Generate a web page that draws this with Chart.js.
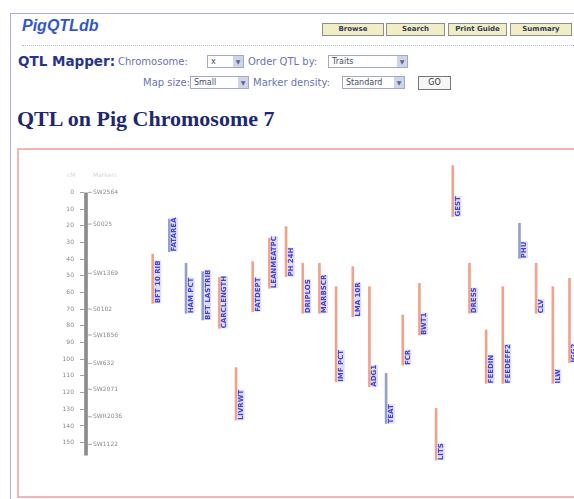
<!DOCTYPE html>
<html>
<head>
<meta charset="utf-8">
<script src="https://cdn.jsdelivr.net/npm/chart.js@4.4.1/dist/chart.umd.min.js"></script>
<style>
body { margin:0; background:#fff; width:574px; height:499px; overflow:hidden; position:relative; font-family:"DejaVu Sans", Verdana, sans-serif; }
.frame { position:absolute; left:10px; top:13px; width:600px; height:520px; border-top:1px solid #aab0cf; border-left:1px solid #aab0cf; }
.logo { position:absolute; left:22px; top:17px; font:italic bold 16px "Liberation Sans", Arial, sans-serif; color:#3356cc; }
.btn { position:absolute; top:23px; height:11px; border:1px solid #8e8e8e; background:#f1edc6; font:bold 7px "DejaVu Sans"; color:#333a55; text-align:center; line-height:11px; white-space:nowrap; }
.dots { position:absolute; left:22px; top:45px; width:560px; border-top:1px dotted #b9bdd9; }
.mapper { position:absolute; left:18px; top:53px; font:bold 13.5px "DejaVu Sans"; color:#27348b; white-space:nowrap; }
.lbl { position:absolute; font:10px "DejaVu Sans"; color:#6a74b0; white-space:nowrap; line-height:13px; }
.sel { position:absolute; height:12px; border:1px solid #a4a9c0; background:#fff; font:8px "DejaVu Sans"; color:#444c66; line-height:12px; padding-left:3px; box-sizing:border-box; height:13px; white-space:nowrap; }
.sel i { position:absolute; right:0; top:0; width:10px; height:11px; background:#cdd5ea; font-style:normal; font-size:6px; text-align:center; line-height:11px; color:#5a6690; }
.go { position:absolute; left:418px; top:76px; width:33px; height:14px; box-sizing:border-box; border:1px solid #777; background:#f6f6f6; font:8px "DejaVu Sans"; color:#333; text-align:center; line-height:12px; }
.title { position:absolute; left:17px; top:108px; font:bold 22px "Liberation Serif", "Times New Roman", serif; color:#1d2870; line-height:22px; white-space:nowrap; }
.box { position:absolute; left:17px; top:148px; width:600px; height:346px; border:2px solid #f1b7b7; }
#chart { position:absolute; left:20px; top:159px; }
</style>
</head>
<body>
<div class="frame"></div>
<div class="logo">PigQTLdb</div>
<div class="btn" style="left:322px;width:60px">Browse</div>
<div class="btn" style="left:386px;width:57px">Search</div>
<div class="btn" style="left:448px;width:57px">Print Guide</div>
<div class="btn" style="left:510px;width:60px">Summary</div>
<div class="dots"></div>
<div class="mapper">QTL Mapper:</div>
<div class="lbl" style="left:118px;top:55px">Chromosome:</div>
<div class="sel" style="left:207px;top:55px;width:37px">x<i>&#9660;</i></div>
<div class="lbl" style="left:248px;top:55px">Order QTL by:</div>
<div class="sel" style="left:328px;top:55px;width:80px">Traits<i>&#9660;</i></div>
<div class="lbl" style="left:143px;top:76px">Map size:</div>
<div class="sel" style="left:190px;top:76px;width:59px">Small<i>&#9660;</i></div>
<div class="lbl" style="left:253px;top:76px">Marker density:</div>
<div class="sel" style="left:342px;top:76px;width:63px">Standard<i>&#9660;</i></div>
<div class="go">GO</div>
<div class="title">QTL on Pig Chromosome 7</div>
<div class="box"></div>
<canvas id="chart" width="554" height="317"></canvas>
<script>
// chromosome 7 map (cM)
const chromLength = 157.5;
const tickValues = [0, 10, 20, 30, 40, 50, 60, 70, 80, 90, 100, 110, 120, 130, 140, 150];
const markerNames = ["SW2564", "S0025", "SW1369", "S0102", "SW1856", "SW632", "SW2071", "SWR2036", "SW1122"];
const markerPos = [0, 19, 48.5, 70, 85.5, 102.5, 118, 134.5, 151];

// QTL intervals, one column each
const qtlNames = ["BFT 10 RIB", "FATAREA", "HAM PCT", "BFT LASTRIB", "CARCLENGTH", "LIVRWT", "FATDEPT",
   "LEANMEATPC", "PH 24H", "DRIPLOS", "MARBSCR", "IMF PCT", "LMA 10R", "ADG1", "TEAT", "FCR", "BWT1",
   "LITS", "GEST", "DRESS", "FEEDIN", "FEEDEFF2", "PHU", "CLV", "ILW", "IGG2"];
const qtlStart = [37, 16, 42.5, 47.5, 51, 105, 41.5, 27.5, 20.5, 42.5, 42.5, 56.5, 44.5, 56.5, 108.5,
   73.5, 54.5, 129.5, -16, 42.5, 82.5, 56.5, 18.5, 42.5, 56.5, 51.5];
const qtlEnd = [66.5, 35.5, 72.5, 76.5, 81.5, 136.5, 71.5, 57.5, 50.5, 72.5, 72.5, 113.5, 74.5, 116.5,
   138.5, 103.5, 85.5, 160.5, 14.5, 72.5, 114.5, 114.5, 39.5, 72.5, 114.5, 102];
const qtlKind = ["a", "b", "b", "b", "a", "a", "a", "a", "a", "a", "a", "a", "a", "a", "b", "a", "a",
   "a", "a", "a", "a", "a", "b", "a", "a", "a"];

const chromColumn = -4;
const KIND_COLOUR = { a: "#f0a38c", b: "#95a0c8" };

const mapLabels = {
   id: "mapLabels",
   afterDatasetsDraw(chart) {
      const ctx = chart.ctx;
      const y = chart.scales.y;
      const cx = chart.scales.x.getPixelForValue(chromColumn);

      // markers on the chromosome
      ctx.save();
      ctx.font = '6px "DejaVu Sans"';
      ctx.fillStyle = "#8a8a8a";
      ctx.strokeStyle = "#aaaaaa";
      ctx.lineWidth = 1;
      ctx.textBaseline = "middle";
      markerNames.forEach((name, i) => {
         const py = y.getPixelForValue(markerPos[i]);
         ctx.beginPath();
         ctx.moveTo(cx + 2, py);
         ctx.lineTo(cx + 6, py);
         ctx.stroke();
         ctx.fillText(name, cx + 7, py);
      });
      ctx.fillStyle = "#d4d4d4";
      ctx.fillText("cM", cx - 19, y.getPixelForValue(-10));
      ctx.fillText("Markers", cx + 7, y.getPixelForValue(-10));
      ctx.restore();

      // QTL labels, rotated, sitting on the bottom of each interval
      const meta = chart.getDatasetMeta(1);
      ctx.save();
      ctx.font = 'bold 7px "DejaVu Sans"';
      ctx.textBaseline = "middle";
      meta.data.forEach((bar, i) => {
         const bottom = Math.max(bar.y, bar.base);
         const w = ctx.measureText(qtlNames[i]).width;
         ctx.save();
         ctx.translate(bar.x + 5, bottom);
         ctx.rotate(-Math.PI / 2);
         ctx.fillStyle = "#dedcf7";
         ctx.fillRect(0, -3.5, w, 7);
         ctx.fillStyle = "#3f3fdc";
         ctx.fillText(qtlNames[i], 0, 0);
         ctx.restore();
      });
      ctx.restore();
   }
};

new Chart("chart", {
   type: "bar",
   data: {
      datasets: [{
         label: "Chromosome 7",
         data: [{ x: chromColumn, y: [0, chromLength] }],
         backgroundColor: "#8c8c8c",
         barThickness: 3,
         grouped: false
      }, {
         label: "QTL",
         data: qtlStart.map((s, i) => ({ x: i, y: [s, qtlEnd[i]] })),
         backgroundColor: qtlKind.map(k => KIND_COLOUR[k]),
         barThickness: 2,
         grouped: false
      }]
   },
   options: {
      responsive: false,
      animation: false,
      events: [],
      layout: { padding: 0 },
      plugins: { legend: { display: false }, tooltip: { enabled: false } },
      scales: {
         x: { type: "linear", min: -4.12, max: 25.27, offset: false, display: false },
         y: {
            reverse: true,
            min: -20,
            max: 170,
            border: { display: false },
            grid: { drawOnChartArea: false, drawTicks: true, tickLength: 4, color: "#a0a0a0" },
            ticks: { color: "#8a8a8a", padding: 6, font: { size: 6, family: "DejaVu Sans" } },
            afterBuildTicks: scale => { scale.ticks = tickValues.map(v => ({ value: v })); },
            afterFit: scale => { scale.width = 64; scale.paddingTop = 0; scale.paddingBottom = 0; }
         }
      }
   },
   plugins: [mapLabels]
});
</script>
</body>
</html>
